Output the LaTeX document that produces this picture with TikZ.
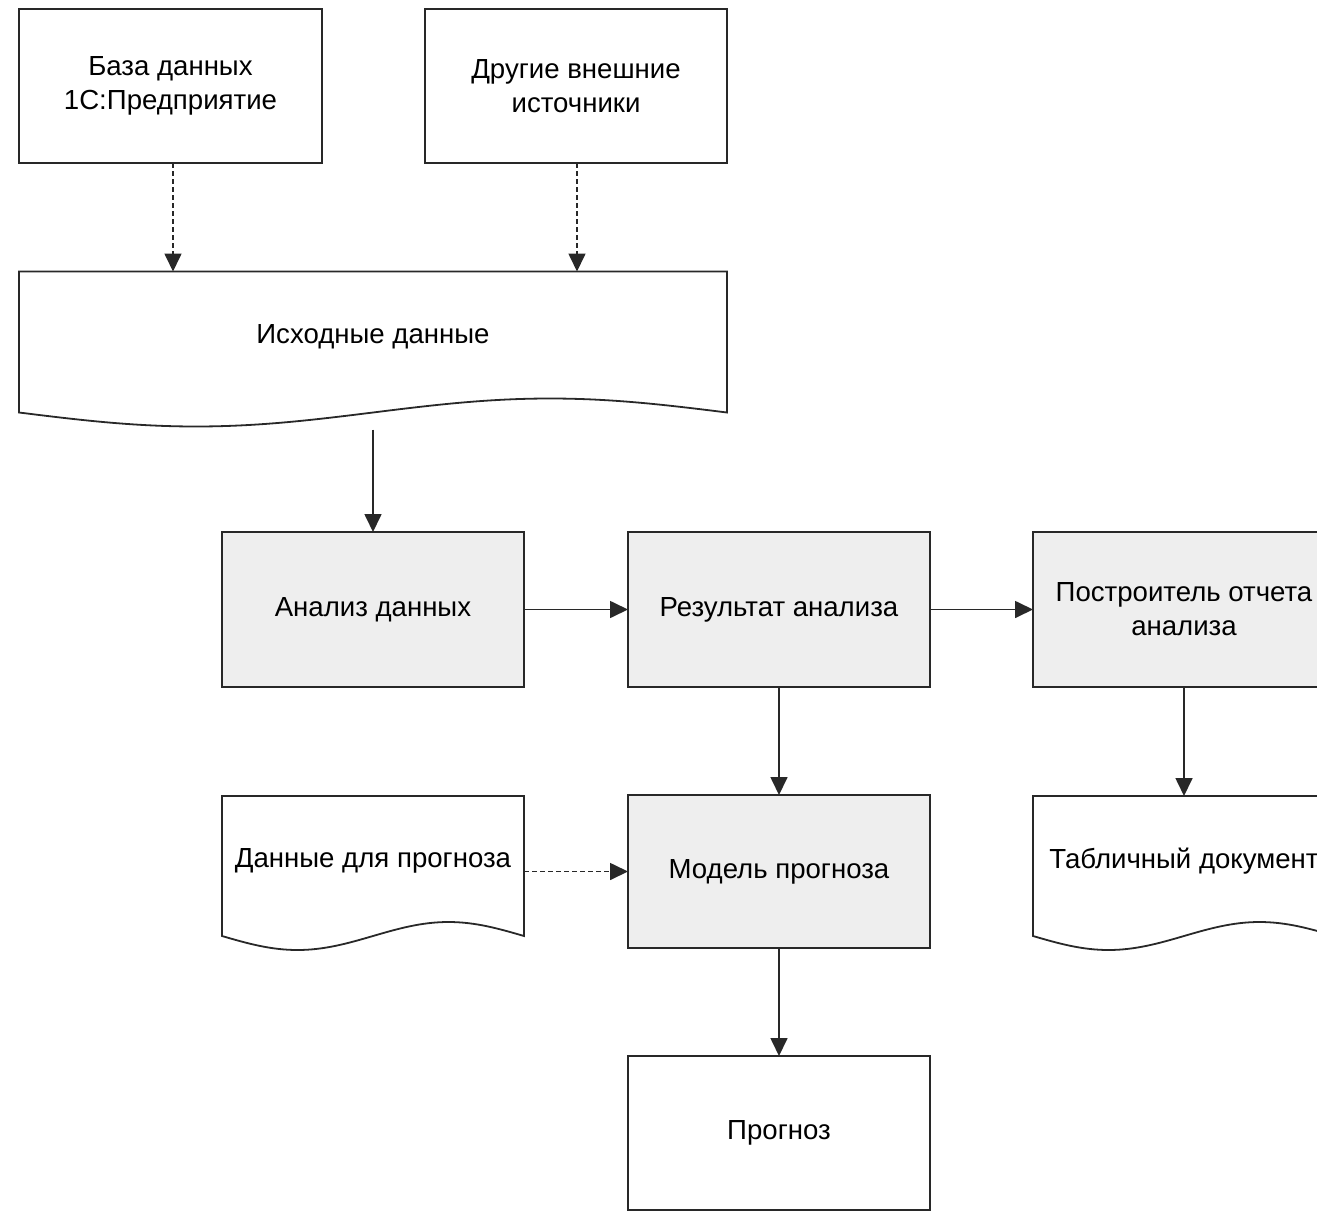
\documentclass[tikz,border=0pt]{standalone}
\usepackage{fontspec}
\setmainfont{Liberation Sans}
\usetikzlibrary{arrows.meta,calc}

\definecolor{procfill}{RGB}{238,238,238}
\definecolor{edge}{RGB}{40,40,40}

\tikzset{
  box/.style={draw=edge, line width=1.8pt, inner sep=0pt, outer sep=0pt,
              minimum width=302pt, minimum height=154pt, align=center,
              font=\fontsize{27.6}{34}\selectfont},
  procbox/.style={box, fill=procfill},
  docbox/.style={box, draw=none, minimum height=130pt},
  outline/.style={draw=edge, line width=1.8pt, line join=miter},
  arr/.style={draw=edge, line width=1.7pt,
              -{Triangle[length=18pt,width=17pt]}},
  dasharr/.style={arr, dash pattern=on 5pt off 3pt},
}

% outline of a "document" symbol around a node: wavy lower edge
\newcommand{\docoutline}[1]{%
  \path[outline] let \p1=(#1.north west), \p2=(#1.south east),
    \n1={\x2-\x1}, \n2={\y2-10pt} in
    (\p1) -- (\x1,\n2)
    sin ({\x1+0.25*\n1},{\n2-14pt}) cos ({\x1+0.5*\n1},\n2)
    sin ({\x1+0.75*\n1},{\n2+14pt}) cos (\x2,\n2)
    -- (\x2,\y1) -- cycle;}

\begin{document}
\begin{tikzpicture}[x=1pt,y=-1pt]
  \useasboundingbox (0,0) rectangle (1317,1215);
  \clip (0,0) rectangle (1317,1215);

  % sources
  \node[box, minimum width=303pt] (db) at (170.5,86) {База данных\\1С:Предприятие};
  \node[box] (ext) at (576,86) {Другие внешние\\источники};

  % input data document
  \node[docbox, minimum width=708pt, minimum height=131pt] (src) at (373,337) {Исходные данные};
  \docoutline{src}

  % processing row
  \node[procbox, minimum height=155pt] (analysis) at (373,609.5) {Анализ данных};
  \node[procbox, minimum height=155pt] (result) at (779,609.5) {Результат анализа};
  \node[procbox, minimum height=155pt] (builder) at (1184,609.5) {Построитель отчета\\анализа};

  % forecasting row
  \node[docbox] (fcdata) at (373,861) {Данные для прогноза};
  \docoutline{fcdata}
  \node[procbox, minimum height=153pt] (model) at (779,871.5) {Модель прогноза};
  \node[docbox] (table) at (1184,861) {Табличный документ};
  \docoutline{table}

  \node[box] (forecast) at (779,1133) {Прогноз};

  % connectors
  \draw[dasharr] ([xshift=2.5pt]db.south) -- ([xshift=2.5pt]db.south |- src.north);
  \draw[dasharr] ([xshift=1pt]ext.south) -- ([xshift=1pt]ext.south |- src.north);
  \draw[arr] ([yshift=-27pt]src.south) -- (analysis.north);
  \draw[arr] (analysis.east) -- (result.west);
  \draw[arr] (result.east) -- (builder.west);
  \draw[arr] (result.south) -- (model.north);
  \draw[arr] (builder.south) -- (table.north);
  \draw[dasharr] (model.west -| fcdata.east) -- (model.west);
  \draw[arr] (model.south) -- (forecast.north);
\end{tikzpicture}
\end{document}
